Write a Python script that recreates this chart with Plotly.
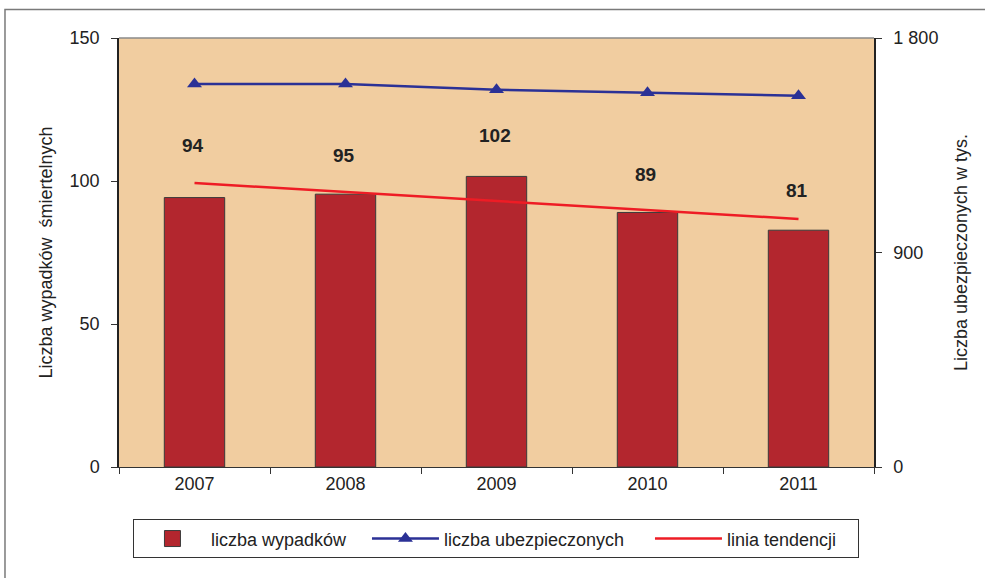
import plotly.graph_objects as go

years = ["2007", "2008", "2009", "2010", "2011"]
wypadki = [94.2, 95.4, 101.6, 89.0, 82.8]
wypadki_labels = ["94", "95", "102", "89", "81"]
ubezpieczeni = [1607, 1607, 1583, 1570, 1558]
trend_years = ["2007", "2011"]
trend_values = [99.3, 86.7]
label_y = [112.3, 108.8, 115.8, 102.2, 96.7]

right_tickvals = [0, 900, 1800]
right_ticktext = ["0", "900", "1 800"]
left_tickvals = [0, 50, 100, 150]

FONT = "Liberation Sans, Arial, sans-serif"
BAR_COLOR = "#B3262E"

fig = go.Figure()
fig.add_trace(go.Bar(
    x=years, y=wypadki, name="liczba wypadków", width=0.4,
    marker=dict(color=BAR_COLOR, line=dict(color="#3a3a3a", width=1)),
    yaxis="y", showlegend=False,
))
# legend entry for the bars (larger square swatch)
fig.add_trace(go.Scatter(
    x=[None], y=[None], name="liczba wypadków", mode="markers",
    marker=dict(symbol="square", size=16, color=BAR_COLOR,
                line=dict(color="#3a3a3a", width=1)),
    legendwidth=151, legendrank=1,
))
fig.add_trace(go.Scatter(
    x=trend_years, y=trend_values, name="linia tendencji", mode="lines",
    line=dict(color="#EE1C25", width=2.5), legendwidth=126, yaxis="y",
    legendrank=3,
))
fig.add_trace(go.Scatter(
    x=years, y=ubezpieczeni, name="liczba ubezpieczonych", mode="lines+markers",
    line=dict(color="#2B3196", width=2.5),
    marker=dict(symbol="triangle-up", size=13, color="#2B3196"),
    legendwidth=201, yaxis="y2", legendrank=2,
))

for i, (txt, ly) in enumerate(zip(wypadki_labels, label_y)):
    fig.add_annotation(x=i, y=ly, xref="x", yref="y", text="<b>" + txt + "</b>",
                       showarrow=False, xshift=-2,
                       font=dict(size=19, color="#222", family=FONT))

fig.add_shape(type="rect", xref="paper", yref="paper", x0=-0.151, x1=1.4,
              y0=-0.6, y1=1.0666, line=dict(color="#7a7a7a", width=1.5),
              fillcolor="rgba(0,0,0,0)", layer="below")
fig.add_shape(type="line", xref="paper", yref="paper", x0=0, x1=1, y0=1, y1=1,
              line=dict(color="#8a8a8a", width=1.5))

fig.update_layout(
    width=985, height=578,
    margin=dict(l=119, r=111, t=38, b=111),
    paper_bgcolor="white", plot_bgcolor="#F1CDA0",
    font=dict(family=FONT, size=18, color="#222"),
    xaxis=dict(type="category", range=[-0.5, 4.5], showline=True, linecolor="#333",
               linewidth=1, ticks="outside", tickson="boundaries", ticklen=6,
               tickcolor="#333", showgrid=False, tickfont=dict(size=18),
               tickangle=0, automargin=False),
    yaxis=dict(range=[0, 150], tickvals=left_tickvals, showline=True, linecolor="#222",
               linewidth=1.5, ticks="outside", ticklen=6, tickcolor="#333",
               showgrid=False, zeroline=False, ticklabelstandoff=8, automargin=False,
               title=dict(text="Liczba wypadków  śmiertelnych", font=dict(size=18), standoff=12)),
    yaxis2=dict(range=[0, 1800], tickvals=right_tickvals, ticktext=right_ticktext,
                overlaying="y", side="right", showline=True, linecolor="#222",
                linewidth=1.5, ticks="outside", ticklen=6, tickcolor="#333",
                showgrid=False, zeroline=False, ticklabelstandoff=8, automargin=False,
                title=dict(text="Liczba ubezpieczonych w tys.", font=dict(size=18), standoff=17)),
    legend=dict(orientation="h", x=0.0185, xanchor="left", y=-0.122, yanchor="top",
                bordercolor="#333", borderwidth=1, bgcolor="white",
                font=dict(size=18, family=FONT), itemwidth=67, traceorder="normal"),
    showlegend=True,
)

fig.write_html("out.html", config={"displayModeBar": False},
               post_script="document.body.style.margin='0';document.body.style.overflow='hidden';")
